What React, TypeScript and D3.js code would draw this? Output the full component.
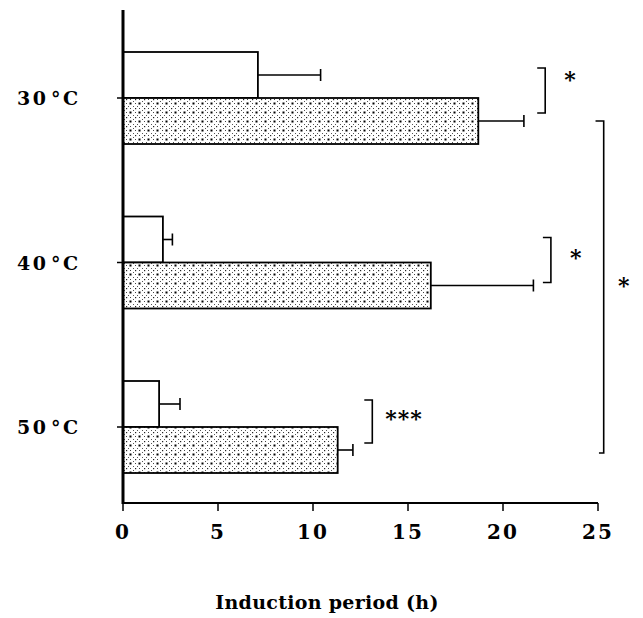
import React from "react";
import * as d3 from "d3";

const categories = ["30°C", "40°C", "50°C"];
const controlValues = [7.1, 2.1, 1.9];
const controlErrors = [3.3, 0.5, 1.1];
const treatedValues = [18.7, 16.2, 11.3];
const treatedErrors = [2.4, 5.4, 0.8];
const xTicks = [0, 5, 10, 15, 20, 25];
const pairStars = ["*", "*", "***"];
const pairBracketX = [21.8, 22.1, 12.7];
const overallStar = "*";

const W = 643;
const H = 618;

// bracket layout offsets relative to the group centre [top, bottom, star centre]
const bracketOffsets = [
  [-30, 15, -24],
  [-25, 20, -10],
  [-27, 16, -14],
];

export default function App() {
  const x = d3.scaleLinear().domain([0, 25]).range([123, 598]);
  const y = d3.scalePoint<string>().domain(categories).range([98, 427]);
  const barH = 46;
  const font = "'DejaVu Serif', 'Liberation Serif', serif";
  const starSize = 22;

  return (
    <svg width={W} height={H} style={{ position: "absolute", left: 0, top: 0, background: "#fff" }}>
      <defs>
        <pattern id="dots" width="9" height="9" patternUnits="userSpaceOnUse">
          <rect width="9" height="9" fill="#fff" />
          <rect x="3.5" y="3.5" width="2" height="2" fill="#000" />
          <rect x="0" y="0" width="1.2" height="1.2" fill="#222" />
          <rect x="4" y="0" width="1" height="1" fill="#444" />
          <rect x="0" y="4" width="1" height="1" fill="#444" />
          <rect x="7" y="7" width="1" height="1" fill="#555" />
          <rect x="7" y="2" width="1" height="1" fill="#555" />
          <rect x="2" y="7" width="1" height="1" fill="#555" />
        </pattern>
      </defs>

      {categories.map((c, i) => {
        const cy = y(c)!;
        const x0 = x(0);
        const bx = x(pairBracketX[i]);
        const [bt, bb, sc] = bracketOffsets[i];
        return (
          <g key={c}>
            <line x1={x(controlValues[i])} x2={x(controlValues[i] + controlErrors[i])} y1={cy - barH / 2} y2={cy - barH / 2} stroke="#000" strokeWidth={1.6} />
            <line x1={x(controlValues[i] + controlErrors[i])} x2={x(controlValues[i] + controlErrors[i])} y1={cy - barH / 2 - 6} y2={cy - barH / 2 + 6} stroke="#000" strokeWidth={1.6} />
            <rect x={x0} y={cy - barH} width={x(controlValues[i]) - x0} height={barH} fill="#fff" stroke="#000" strokeWidth={1.8} />
            <line x1={x(treatedValues[i])} x2={x(treatedValues[i] + treatedErrors[i])} y1={cy + barH / 2} y2={cy + barH / 2} stroke="#000" strokeWidth={1.6} />
            <line x1={x(treatedValues[i] + treatedErrors[i])} x2={x(treatedValues[i] + treatedErrors[i])} y1={cy + barH / 2 - 6} y2={cy + barH / 2 + 6} stroke="#000" strokeWidth={1.6} />
            <rect x={x0} y={cy} width={x(treatedValues[i]) - x0} height={barH} fill="url(#dots)" stroke="#000" strokeWidth={1.8} />
            <line x1={x0 - 6} x2={x0} y1={cy} y2={cy} stroke="#000" strokeWidth={1.5} />
            <text x={17} y={cy + 7} fontFamily={font} fontWeight="bold" fontSize={19} letterSpacing={2.5}>{c.replace("°C", "")}</text>
            <text x={51} y={cy + 7} fontFamily={font} fontWeight="bold" fontSize={19} letterSpacing={2.5}>{"°C"}</text>
            <path d={`M${bx},${cy + bt} H${bx + 8} V${cy + bb} H${bx}`} fill="none" stroke="#000" strokeWidth={1.6} />
            <text x={bx + (i === 2 ? 21 : 27)} y={cy + sc + starSize * 0.57} fontFamily={font} fontWeight="bold" fontSize={starSize} letterSpacing={1}>{pairStars[i]}</text>
          </g>
        );
      })}

      <path d={`M${x(24.87)},${y(categories[0])! + 23} H${x(25.3)} V${y(categories[2])! + 26} H${x(25.05)}`} fill="none" stroke="#000" strokeWidth={1.6} />
      <text x={x(26.05)} y={280 + starSize * 0.57} fontFamily={font} fontWeight="bold" fontSize={starSize}>{overallStar}</text>

      <line x1={x(0)} x2={x(0)} y1={10} y2={504} stroke="#000" strokeWidth={3} />
      <line x1={x(0)} x2={x(25)} y1={503} y2={503} stroke="#000" strokeWidth={2} />
      {xTicks.map((t) => (
        <g key={t}>
          <line x1={x(t)} x2={x(t)} y1={503} y2={511} stroke="#000" strokeWidth={1.5} />
          <text x={x(t)} y={539} textAnchor="middle" fontFamily={font} fontWeight="bold" fontSize={20} letterSpacing={2}>{t}</text>
        </g>
      ))}
      <text x={327} y={609} textAnchor="middle" fontFamily={font} fontWeight="bold" fontSize={19} letterSpacing={0.3}>Induction period (h)</text>
    </svg>
  );
}
